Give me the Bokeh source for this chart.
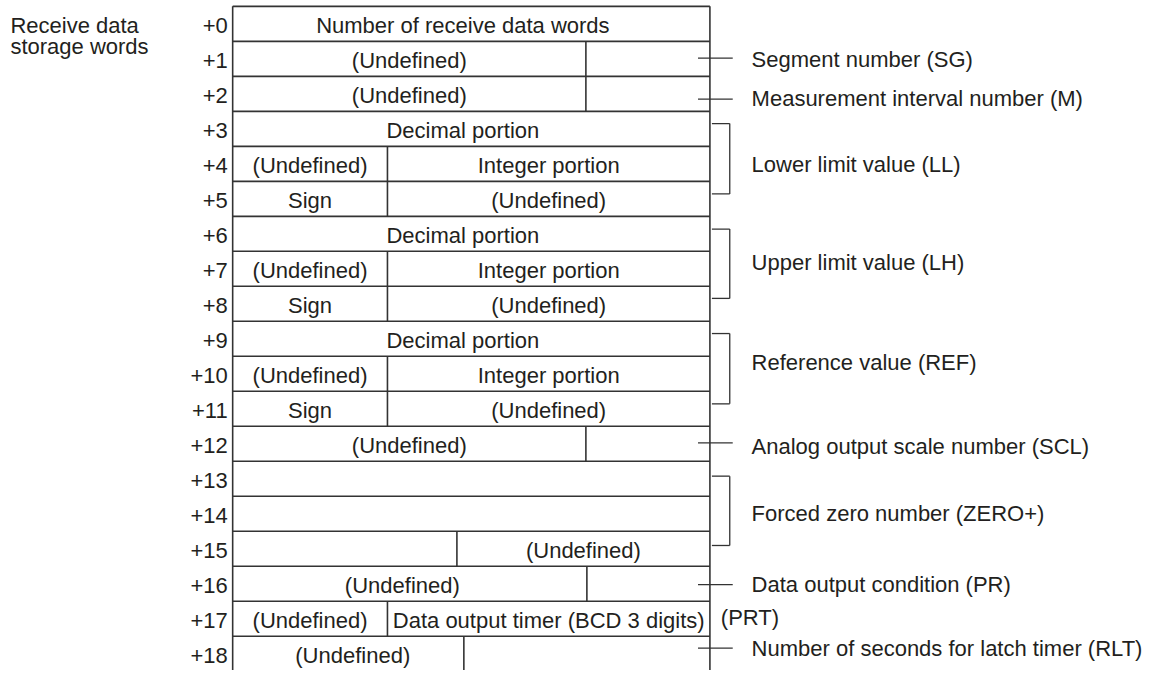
from bokeh.plotting import figure
from bokeh.models import Range1d
from bokeh.embed import file_html
from bokeh.resources import INLINE
from bokeh.core.properties import value

# ---------------- data ----------------
title_lines = ["Receive data", "storage words"]
row_labels = ["+%d" % i for i in range(19)]

# each row: list of cells (text, x_start, x_end[, text_x])
row_cells = [
    [("Number of receive data words", 234, 715, 466)],
    [("(Undefined)", 234, 590), ("", 590, 715)],
    [("(Undefined)", 234, 590), ("", 590, 715)],
    [("Decimal portion", 234, 715, 466)],
    [("(Undefined)", 234, 390), ("Integer portion", 390, 715)],
    [("Sign", 234, 390), ("(Undefined)", 390, 715)],
    [("Decimal portion", 234, 715, 466)],
    [("(Undefined)", 234, 390), ("Integer portion", 390, 715)],
    [("Sign", 234, 390), ("(Undefined)", 390, 715)],
    [("Decimal portion", 234, 715, 466)],
    [("(Undefined)", 234, 390), ("Integer portion", 390, 715)],
    [("Sign", 234, 390), ("(Undefined)", 390, 715)],
    [("(Undefined)", 234, 590), ("", 590, 715)],
    [("", 234, 715)],
    [("", 234, 715)],
    [("", 234, 460), ("(Undefined)", 460, 715)],
    [("(Undefined)", 234, 591, 405), ("", 591, 715)],
    [("(Undefined)", 234, 390), ("Data output timer (BCD 3 digits)", 390, 715)],
    [("(Undefined)", 234, 467, 355), ("", 467, 715)],
]

# right-hand annotations
tick_y = [59, 101, 453, 598, 663]
bracket_top = [126, 234, 341, 487]
bracket_bottom = [198, 305, 413, 558]
note_texts = ["Segment number (SG)", "Measurement interval number (M)",
              "Lower limit value (LL)", "Upper limit value (LH)",
              "Reference value (REF)", "Analog output scale number (SCL)",
              "Forced zero number (ZERO+)", "Data output condition (PR)",
              "Number of seconds for latch timer (RLT)"]
note_y = [60, 100, 168, 268, 371, 457, 525, 598, 663]
prt_text = "(PRT)"
prt_y = 632

# ---------------- layout constants ----------------
TOP = 6
RH = 35.83
LEFT = 234
RIGHT = 715
BOTTOM = 700
LC = "#333333"
TC = "#231f20"
FONT = value("Liberation Sans")
FS = "22px"
DY = 2  # text optical offset

def row_top(r):
    return TOP + r * RH

p = figure(width=1143, height=670, x_range=Range1d(0, 1152), y_range=Range1d(686, 0),
           output_backend="svg", toolbar_location=None, x_axis_type=None, y_axis_type=None,
           min_border=0, background_fill_color="white", border_fill_color="white")
p.grid.visible = False
p.outline_line_color = None

# table frame
p.segment(x0=[LEFT, RIGHT], y0=[TOP, TOP], x1=[LEFT, RIGHT], y1=[BOTTOM, BOTTOM],
          line_color=LC, line_width=1.6)

hx0, hy0, hx1, hy1 = [], [], [], []
vx0, vy0, vx1, vy1 = [], [], [], []
tx, ty, tt = [], [], []
for r, cells in enumerate(row_cells):
    yt = row_top(r)
    yb = row_top(r + 1)
    hx0.append(LEFT); hx1.append(RIGHT); hy0.append(yt); hy1.append(yt)
    for c in cells:
        text, xs, xe = c[0], c[1], c[2]
        if xs != LEFT:
            vx0.append(xs); vx1.append(xs); vy0.append(yt)
            vy1.append(BOTTOM if r == len(row_cells) - 1 else yb)
        if text:
            cx = c[3] if len(c) > 3 else (xs + xe) / 2
            tx.append(cx); ty.append((yt + yb) / 2 + DY); tt.append(text)

p.segment(x0=hx0, y0=hy0, x1=hx1, y1=hy1, line_color=LC, line_width=1.6)
p.segment(x0=vx0, y0=vy0, x1=vx1, y1=vy1, line_color=LC, line_width=1.6)
p.text(x=tx, y=ty, text=tt, text_align="center", text_baseline="middle",
       text_font=FONT, text_font_size=FS, text_color=TC)

# row labels
p.text(x=[229] * len(row_labels), y=[(row_top(r) + row_top(r + 1)) / 2 + DY for r in range(len(row_labels))],
       text=row_labels, text_align="right", text_baseline="middle",
       text_font=FONT, text_font_size=FS, text_color=TC)

# title
p.text(x=[10, 10], y=[26, 47], text=title_lines, text_align="left", text_baseline="middle",
       text_font=FONT, text_font_size=FS, text_color=TC)

# ticks
p.segment(x0=[703] * len(tick_y), y0=tick_y, x1=[738] * len(tick_y), y1=tick_y,
          line_color=LC, line_width=1.3)

# brackets
bx0, by0, bx1, by1 = [], [], [], []
for t, b in zip(bracket_top, bracket_bottom):
    bx0 += [717, 735, 717]; by0 += [t, t, b]
    bx1 += [735, 735, 735]; by1 += [t, b, b]
p.segment(x0=bx0, y0=by0, x1=bx1, y1=by1, line_color=LC, line_width=1.3)

# notes
p.text(x=[757] * len(note_texts), y=note_y, text=note_texts, text_align="left",
       text_baseline="middle", text_font=FONT, text_font_size=FS, text_color=TC)
p.text(x=[726], y=[prt_y], text=[prt_text], text_align="left", text_baseline="middle",
       text_font=FONT, text_font_size=FS, text_color=TC)

open("out.html", "w").write(file_html(p, INLINE))
